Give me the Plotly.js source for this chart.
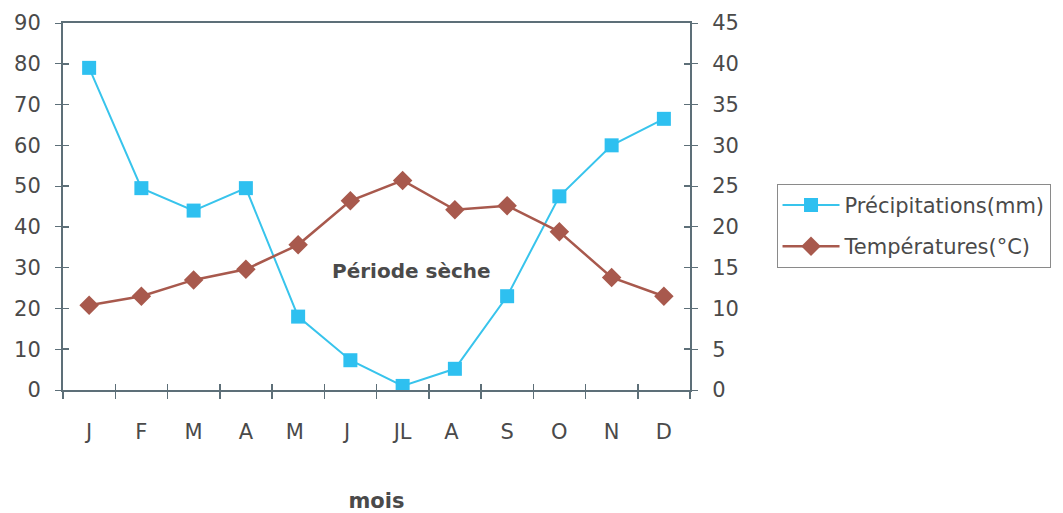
<!DOCTYPE html>
<html>
<head>
<meta charset="utf-8">
<script src="https://cdn.plot.ly/plotly-3.0.1.min.js"></script>
<style>
  html, body { margin: 0; padding: 0; background: #fff; }
  #chart { width: 1063px; height: 513px; }
</style>
</head>
<body>
<div id="chart"></div>
<script>
// Monthly climate data
const months = ['J', 'F', 'M', 'A', 'M ', 'J ', 'JL', 'A ', 'S', 'O', 'N', 'D'];
const precipitations = [79, 49.5, 44, 49.5, 18, 7.3, 1, 5.2, 23, 47.5, 60, 66.5];
const temperatures = [10.4, 11.5, 13.5, 14.8, 17.8, 23.2, 25.7, 22.1, 22.6, 19.4, 13.8, 11.5];

const axisColor = '#5d6f78';
const textColor = '#4a4a4a';
const family = 'DejaVu Sans, Liberation Sans, Arial, sans-serif';
const font = { family: family, size: 21, color: textColor };

const xRange = [-0.5, months.length - 0.5];

const traces = [
  {
    x: months, y: precipitations, name: 'Précipitations(mm)',
    type: 'scatter', mode: 'lines+markers', yaxis: 'y', legendgroup: 'p',
    line: { color: '#38c4ec', width: 2 },
    marker: { symbol: 'square', size: 14, color: '#2ec0f0' }
  },
  {
    x: months, y: temperatures, name: 'Températures(°C)',
    type: 'scatter', mode: 'lines+markers', yaxis: 'y2', legendgroup: 't',
    line: { color: '#a8594d', width: 2.5 },
    marker: { symbol: 'diamond', size: 15, color: '#a8594d' }
  },
  // markerless copies that carry the inner half of the crossing tick marks
  {
    x: months, y: precipitations, xaxis: 'x2', yaxis: 'y3',
    type: 'scatter', mode: 'none', showlegend: false, hoverinfo: 'skip'
  },
  {
    x: months, y: temperatures, xaxis: 'x2', yaxis: 'y4',
    type: 'scatter', mode: 'none', showlegend: false, hoverinfo: 'skip'
  }
];

const innerTicks = { ticks: 'inside', ticklen: 6, tickcolor: axisColor, tickwidth: 1.5,
  showgrid: false, zeroline: false, showline: false, showticklabels: false };

const layout = {
  width: 1063, height: 513,
  margin: { l: 63, r: 371, t: 23, b: 123 },
  paper_bgcolor: '#ffffff', plot_bgcolor: '#ffffff',
  font: font,
  showlegend: true,
  legend: {
    x: 1.138, y: 0.562, xanchor: 'left', yanchor: 'top',
    bordercolor: '#8a8a8a', borderwidth: 1,
    font: { family: family, size: 21, color: textColor },
    traceorder: 'grouped', tracegroupgap: 11, itemwidth: 57
  },
  xaxis: {
    type: 'category', range: xRange,
    showgrid: false, zeroline: false,
    showline: true, linecolor: axisColor, linewidth: 2, mirror: true,
    ticks: 'outside', tickson: 'boundaries', ticklen: 7, tickcolor: axisColor, tickwidth: 1.5,
    ticklabelstandoff: 22,
    tickfont: font,
    title: { text: '<b>mois</b>', font: { family: family, size: 21, color: textColor }, standoff: 50 }
  },
  xaxis2: Object.assign({
    type: 'category', range: xRange, overlaying: 'x', anchor: 'y3', side: 'bottom',
    tickson: 'boundaries'
  }, innerTicks),
  yaxis: {
    range: [0, 90], dtick: 10,
    showgrid: false, zeroline: false,
    showline: true, linecolor: axisColor, linewidth: 2,
    ticks: 'outside', ticklen: 6, tickcolor: axisColor, tickwidth: 1,
    ticklabelstandoff: 10,
    tickfont: font
  },
  yaxis2: {
    range: [0, 45], dtick: 5,
    overlaying: 'y', side: 'right',
    showgrid: false, zeroline: false,
    showline: true, linecolor: axisColor, linewidth: 2,
    ticks: 'outside', ticklen: 6, tickcolor: axisColor, tickwidth: 1,
    ticklabelstandoff: 10,
    tickfont: font
  },
  yaxis3: Object.assign({ range: [0, 90], dtick: 10, overlaying: 'y', side: 'left', anchor: 'x2' }, innerTicks),
  yaxis4: Object.assign({ range: [0, 45], dtick: 5, overlaying: 'y', side: 'right', anchor: 'x2' }, innerTicks),
  annotations: [
    {
      text: '<b>Période sèche</b>', x: 0.556, xref: 'paper', y: 29.2, yref: 'y',
      showarrow: false, font: { family: family, size: 20, color: textColor }
    }
  ]
};

Plotly.newPlot('chart', traces, layout, { displayModeBar: false, staticPlot: true });
</script>
</body>
</html>
